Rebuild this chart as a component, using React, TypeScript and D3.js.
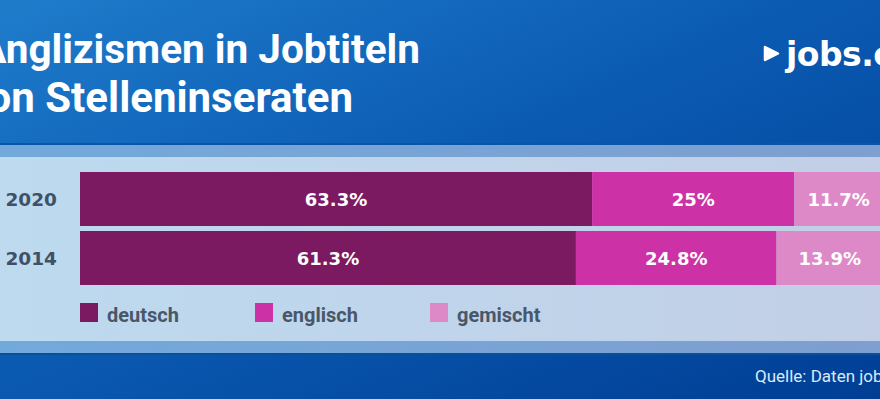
import React, { useEffect } from "react";
import * as d3 from "d3";

const years = ["2020", "2014"];
const seriesNames = ["deutsch", "englisch", "gemischt"];
const deutsch = [63.3, 61.3];
const englisch = [25, 24.8];
const gemischt = [11.7, 13.9];
const colors = ["#7b1a60", "#cc31a6", "#dd89c8"];

const W = 880;
const H = 399;

const App = () => {
  useEffect(() => {
    document.body.style.margin = "0";
    document.body.style.overflow = "hidden";
  }, []);

  const rows = years.map((year, i) => ({
    year,
    deutsch: deutsch[i],
    englisch: englisch[i],
    gemischt: gemischt[i],
  }));

  const stacked = d3.stack<any>().keys(seriesNames)(rows);

  const x = d3.scaleLinear().domain([0, 100]).range([80, 889]);
  const y = d3
    .scaleBand()
    .domain(years)
    .range([172, 285])
    .paddingInner(5 / 59)
    .paddingOuter(0);

  const labelFont = "'DejaVu Sans', sans-serif";

  return (
    <svg width={W} height={H} style={{ display: "block" }}>
      <defs>
        <linearGradient id="bg" x1="0" y1="0" x2="1" y2="1">
          <stop offset="0%" stopColor="#1f7ccb" />
          <stop offset="45%" stopColor="#0b5bb3" />
          <stop offset="100%" stopColor="#003e94" />
        </linearGradient>
        <linearGradient id="strip" x1="0" y1="0" x2="1" y2="0">
          <stop offset="0%" stopColor="#72a9db" />
          <stop offset="100%" stopColor="#7e9fcf" />
        </linearGradient>
        <linearGradient id="panel" x1="0" y1="0" x2="1" y2="0">
          <stop offset="0%" stopColor="#bddaef" />
          <stop offset="100%" stopColor="#c2cfe6" />
        </linearGradient>
      </defs>

      <rect x={0} y={0} width={W} height={H} fill="url(#bg)" />

      {/* panel */}
      <rect x={0} y={143} width={W} height={2} fill="#0a55a6" />
      <rect x={0} y={145} width={W} height={12} fill="url(#strip)" />
      <rect x={0} y={157} width={W} height={184} fill="url(#panel)" />
      <rect x={0} y={341} width={W} height={12} fill="url(#strip)" />
      <rect x={0} y={353} width={W} height={2} fill="#0a4f9e" />

      {/* title (left edge cropped like the source image) */}
      <g fill="#ffffff" fontFamily="Roboto, sans-serif" fontWeight="bold">
        <text x={420} y={63} textAnchor="end" fontSize={40.5}>Anglizismen in Jobtiteln</text>
        <text x={353} y={112} textAnchor="end" fontSize={42}>von Stelleninseraten</text>
      </g>

      {/* logo */}
      <path d="M765,47 L778,53.5 L765,60 Z" fill="#ffffff" strokeLinejoin="round" stroke="#ffffff" strokeWidth={2.5} />
      <text x={786} y={66} fill="#ffffff" fontFamily={labelFont} fontWeight="bold" fontSize={33} letterSpacing={-0.5}>
        jobs.ch
      </text>

      {/* bars */}
      {stacked.map((layer, si) => (
        <g key={layer.key}>
          {layer.map((d, i) => (
            <rect
              key={years[i]}
              x={x(d[0])}
              y={y(years[i])}
              width={x(d[1]) - x(d[0])}
              height={y.bandwidth()}
              fill={colors[si]}
            />
          ))}
          {layer.map((d, i) => (
            <text
              key={"t" + years[i]}
              x={(x(d[0]) + x(Math.min(d[1], 100))) / 2 - (si === 2 ? 3 : 0)}
              y={(y(years[i]) as number) + y.bandwidth() / 2 + 7}
              textAnchor="middle"
              fill="#ffffff"
              fontFamily={labelFont}
              fontWeight="bold"
              fontSize={18}
            >
              {`${+(d[1] - d[0]).toFixed(1)}%`}
            </text>
          ))}
        </g>
      ))}

      {/* year labels */}
      {years.map((yr) => (
        <text
          key={yr}
          x={57}
          y={(y(yr) as number) + y.bandwidth() / 2 + 7}
          textAnchor="end"
          fill="#3f5168"
          fontFamily={labelFont}
          fontWeight="bold"
          fontSize={18.5}
        >
          {yr}
        </text>
      ))}

      {/* legend */}
      {seriesNames.map((name, i) => (
        <g key={name} transform={`translate(${80 + i * 175},303)`}>
          <rect x={0} y={0} width={18} height={19} fill={colors[i]} />
          <text
            x={27}
            y={19}
            fill="#4a5769"
            fontFamily="Roboto, sans-serif"
            fontWeight="bold"
            fontSize={20}
          >
            {name}
          </text>
        </g>
      ))}

      {/* source */}
      <text x={755} y={382} fill="#dbe9f8" fontFamily="Roboto, sans-serif" fontSize={17}>
        Quelle: Daten jobs.ch
      </text>
    </svg>
  );
};

export default App;
